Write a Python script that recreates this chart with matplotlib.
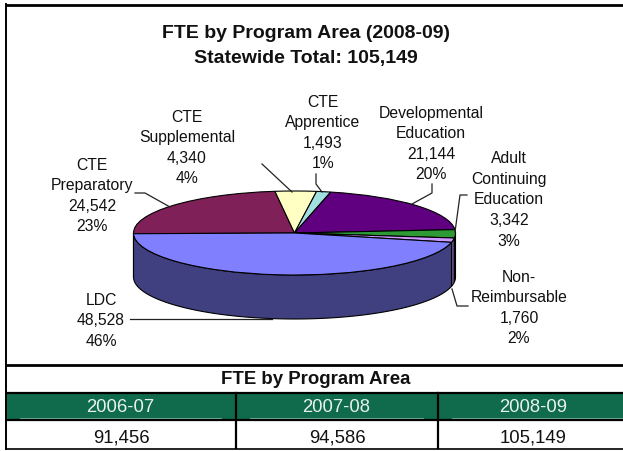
import numpy as np
import matplotlib
matplotlib.use("Agg")
import matplotlib.pyplot as plt

plt.rcParams['font.family'] = ['Liberation Sans', 'DejaVu Sans']

# data
areas = [["CTE", "Preparatory"], ["CTE", "Supplemental"], ["CTE", "Apprentice"],
         ["Developmental", "Education"], ["Adult", "Continuing", "Education"],
         ["Non-", "Reimbursable"], ["LDC"]]
fte = [24542, 4340, 1493, 21144, 3342, 1760, 48528]
shares = ["23%", "4%", "1%", "20%", "3%", "2%", "46%"]
years = ["2006-07", "2007-08", "2008-09"]
totals = ["91,456", "94,586", "105,149"]

top_colors = ["#7F2058", "#FFFFC4", "#A2E0E0", "#600080", "#2E9A36", "#CC99FF", "#8080FF"]
side_colors = ["#40103A", "#80805F", "#507070", "#300040", "#174D1B", "#664C80", "#404080"]

W, H = 623, 452
cx, cy = 294.5, 234
rx, ry, depth = 161, 42, 44
start_angle = 181

fig = plt.figure(figsize=(W / 100, H / 100), dpi=100)

# pie axes, squashed so that the circle turns into the ellipse
ax = fig.add_axes([0, 0, 1, 1])
ax.set_axis_off()
ax.pie(fte, colors=top_colors, startangle=start_angle, counterclock=False,
       wedgeprops=dict(edgecolor="black", linewidth=0.8))
ax.set_aspect("auto")
ax.set_xlim(-cx / rx, (W - cx) / rx)
ax.set_ylim(-(H - cy) / ry, cy / ry)

# rim of the pie: only the part of each slice that faces the viewer
edges = start_angle - np.cumsum([0] + fte) / sum(fte) * 360
d = depth / ry
for i in range(len(fte)):
    a0, a1 = edges[i], edges[i + 1]
    # wrap to the front half (-180..0)
    lo, hi = a1, a0
    if hi > 180:
        lo, hi = lo - 360, hi - 360
    lo, hi = max(lo, -180), min(hi, 0)
    if hi <= lo:
        continue
    t = np.radians(np.linspace(lo, hi, 80))
    xs = np.cos(t)
    ys = np.sin(t)
    ax.fill(np.r_[xs, xs[::-1]], np.r_[ys, ys[::-1] - d], facecolor=side_colors[i],
            edgecolor="black", linewidth=0.8, zorder=0.5)

# overlay in pixel coordinates for text and frames
ov = fig.add_axes([0, 0, 1, 1], facecolor="none")
ov.set_xlim(0, W)
ov.set_ylim(H, 0)
ov.set_axis_off()

label_pos = [(92, 196), (187, 148), (323, 133), (431, 144), (509, 200), (519, 308), (101, 321)]
for name, val, pct, (x, y) in zip(areas, fte, shares, label_pos):
    txt = "\n".join(name + [f"{val:,}", pct])
    ov.text(x, y, txt, ha="center", va="center", fontsize=11.3, linespacing=1.46, color="#111111")

leaders = [[(135, 194), (145, 194), (170, 208)],
           [(262, 165), (292, 193)],
           [(316, 175), (316, 185), (322, 193)],
           [(432, 185), (432, 194), (412, 205)],
           [(467, 196), (460, 196), (455, 233)],
           [(468, 307), (457, 307), (452, 290)],
           [(130, 320), (272, 320)]]
for pts in leaders:
    ov.plot(*zip(*pts), color="#222222", lw=0.9)

ov.text(305.5, 33, "FTE by Program Area (2008-09)", ha="center", va="center",
        fontsize=14, fontweight="bold", color="#111111")
ov.text(305.5, 58, "Statewide Total: 105,149", ha="center", va="center",
        fontsize=14, fontweight="bold", color="#111111")

# table under the chart
ov.fill_between([5, W], 394, 421, color="#0F6B4B", lw=0)
for x0, x1 in [(20, 221), (250, 423), (452, 623)]:
    ov.plot([x0, x1], [418.5, 418.5], color="#7FB5A0", lw=0.7)
ov.text(316, 380, "FTE by Program Area", ha="center", va="center",
        fontsize=13.4, fontweight="bold", color="#111111")
for year, total, xa, xb in zip(years, totals, [120, 336, 533], [121, 337, 533]):
    ov.text(xa, 408, year, ha="center", va="center", fontsize=13.3, color="#E8F2EE")
    ov.text(xb, 438, total, ha="center", va="center", fontsize=13.3, color="#111111")

for y, lw in [(5.5, 2), (366, 2), (394, 1.6), (421, 1.6), (449.5, 1.2)]:
    ov.plot([5, W], [y, y], color="black", lw=lw, solid_capstyle="butt")
ov.plot([5.5, 5.5], [5, 450], color="black", lw=1.4)
for x in [236, 438]:
    ov.plot([x, x], [394, 449], color="black", lw=1.6)

fig.savefig("out.png", dpi=100)
